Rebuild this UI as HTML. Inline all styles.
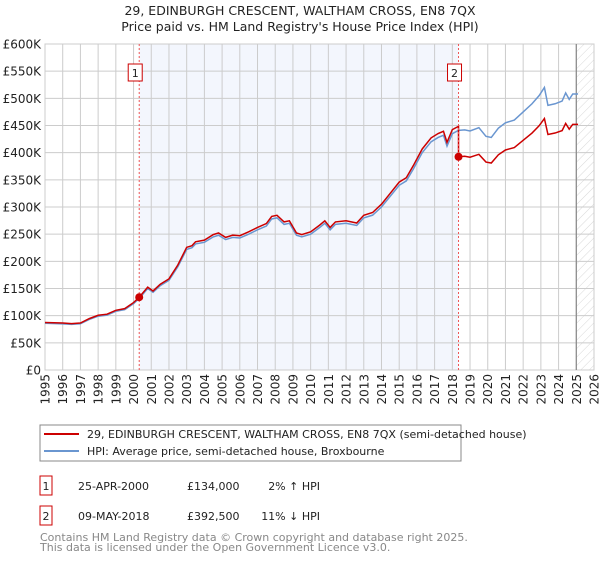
<!DOCTYPE html>
<html><head><meta charset="utf-8"><style>
body{margin:0;background:#fff;font-family:"DejaVu Sans","Liberation Sans",sans-serif;}
svg text{font-family:"DejaVu Sans","Liberation Sans",sans-serif;}
</style></head><body>
<svg id="c" width="600" height="560" xmlns="http://www.w3.org/2000/svg">
<defs><pattern id="hatch" width="6" height="6" patternUnits="userSpaceOnUse" patternTransform="rotate(45)"><line x1="0" y1="0" x2="0" y2="6" stroke="#d8d8d8" stroke-width="1"/></pattern></defs>
<text x="300" y="15" text-anchor="middle" font-size="12.5" fill="#222">29, EDINBURGH CRESCENT, WALTHAM CROSS, EN8 7QX</text>
<text x="300" y="31" text-anchor="middle" font-size="12.5" fill="#222">Price paid vs. HM Land Registry's House Price Index (HPI)</text>
<g id="plot"></g>
<rect x="40" y="425" width="421" height="36" fill="#fff" stroke="#888"/>
<line x1="44" y1="434" x2="79" y2="434" stroke="#cc0000" stroke-width="2"/>
<text x="87" y="438" font-size="11" fill="#222">29, EDINBURGH CRESCENT, WALTHAM CROSS, EN8 7QX (semi-detached house)</text>
<line x1="44" y1="451" x2="79" y2="451" stroke="#6a96d0" stroke-width="2"/>
<text x="87" y="455" font-size="11" fill="#222">HPI: Average price, semi-detached house, Broxbourne</text>
<g font-size="11" fill="#222">
<rect x="40" y="476" width="12" height="19" fill="#fff" stroke="#cc0000"/>
<text x="46" y="490" text-anchor="middle">1</text>
<text x="78" y="490">25-APR-2000</text>
<text x="187" y="490">£134,000</text>
<text x="320" y="490" text-anchor="end">2% ↑ HPI</text>
<rect x="40" y="506" width="12" height="19" fill="#fff" stroke="#cc0000"/>
<text x="46" y="520" text-anchor="middle">2</text>
<text x="78" y="520">09-MAY-2018</text>
<text x="187" y="520">£392,500</text>
<text x="320" y="520" text-anchor="end">11% ↓ HPI</text>
</g>
<text x="40" y="541" font-size="11" fill="#888">Contains HM Land Registry data © Crown copyright and database right 2025.</text>
<text x="40" y="551" font-size="11" fill="#888">This data is licensed under the Open Government Licence v3.0.</text>
</svg>
<script>
const hpiYears=[1995,1996,1996.5,1997,1997.5,1998,1998.5,1999,1999.5,2000,2000.3,2000.8,2001.1,2001.5,2002,2002.5,2003,2003.3,2003.5,2004,2004.5,2004.8,2005.2,2005.6,2006,2006.5,2007,2007.5,2007.8,2008.1,2008.5,2008.8,2009.2,2009.5,2010,2010.5,2010.8,2011.1,2011.4,2012,2012.6,2013,2013.5,2014,2014.5,2015,2015.4,2015.8,2016.3,2016.8,2017.2,2017.5,2017.7,2018,2018.35,2018.7,2019,2019.5,2019.9,2020.2,2020.6,2021,2021.5,2022,2022.5,2022.9,2023.2,2023.4,2023.8,2024.2,2024.4,2024.6,2024.8,2025.1];
const hpiValues=[86,85,84,85,93,99,101,108,111,122,131,150,143,155,165,190,222,225,232,235,245,248,240,244,243,250,258,265,278,280,268,270,248,245,250,262,270,258,268,270,266,280,285,300,320,340,348,370,400,420,428,432,412,435,441,442,440,446,430,428,445,455,460,475,490,505,520,487,490,495,510,498,508,508];
const saleYears=[2000.32,2018.35];
const salePrices=[134,392.5];
const yTicks=[0,50,100,150,200,250,300,350,400,450,500,550,600];
const yTickLabels=["£0","£50K","£100K","£150K","£200K","£250K","£300K","£350K","£400K","£450K","£500K","£550K","£600K"];
const xTicks=[1995,1996,1997,1998,1999,2000,2001,2002,2003,2004,2005,2006,2007,2008,2009,2010,2011,2012,2013,2014,2015,2016,2017,2018,2019,2020,2021,2022,2023,2024,2025,2026];
const NS='http://www.w3.org/2000/svg';
const X0=45,X1=594,Y0=370,Y1=44;
const xs=y=>X0+(y-1995)/(2026-1995)*(X1-X0);
const ys=v=>Y0-v/600*(Y0-Y1);
const g=document.getElementById('plot');
function mk(t,a){const e=document.createElementNS(NS,t);for(const k in a)e.setAttribute(k,a[k]);g.appendChild(e);return e;}
let e=mk('rect',{x:X0,y:Y1,width:X1-X0,height:Y0-Y1,fill:'#fff',stroke:'#ccc'});

e=mk('rect',{x:xs(saleYears[0]),y:Y1,width:xs(saleYears[1])-xs(saleYears[0]),height:Y0-Y1,fill:'#f3f6fd'});

e=mk('rect',{x:xs(2025),y:Y1,width:X1-xs(2025),height:Y0-Y1,fill:'url(#hatch)'});

yTicks.forEach((v,i)=>{
 let l=mk('line',{x1:X0,x2:X1,y1:ys(v),y2:ys(v),stroke:'#ccc'});
 
 let t=mk('text',{x:X0-4,y:ys(v)+4.5,'text-anchor':'end','font-size':'12',fill:'#222'});t.textContent=yTickLabels[i];
 
});
xTicks.forEach(y=>{
 let l=mk('line',{x1:xs(y),x2:xs(y),y1:Y1,y2:Y0,stroke:'#ccc'});
 
 let t=mk('text',{x:0,y:0,'text-anchor':'end','font-size':'12',fill:'#222',transform:`translate(${xs(y)+4.5},${Y0+4}) rotate(-90)`});t.textContent=y;
 
});
e=mk('line',{x1:xs(2025),x2:xs(2025),y1:Y1,y2:Y0,stroke:'#888','stroke-width':1.2});

function hpiAt(y){for(let i=0;i<hpiYears.length-1;i++){if(y>=hpiYears[i]&&y<=hpiYears[i+1]){const f=(y-hpiYears[i])/(hpiYears[i+1]-hpiYears[i]);return hpiValues[i]+f*(hpiValues[i+1]-hpiValues[i]);}}return hpiValues[hpiValues.length-1];}
e=mk('polyline',{points:hpiYears.map((y,i)=>xs(y)+','+ys(hpiValues[i])).join(' '),fill:'none',stroke:'#6a96d0','stroke-width':1.5});

const r1=salePrices[0]/hpiAt(saleYears[0]),r2=salePrices[1]/hpiAt(saleYears[1]);
let pts=[];
hpiYears.forEach((y,i)=>{if(y<saleYears[1])pts.push([y,hpiValues[i]*r1]);});
pts.push([saleYears[1],hpiAt(saleYears[1])*r1]);pts.push([saleYears[1],salePrices[1]]);
hpiYears.forEach((y,i)=>{if(y>saleYears[1])pts.push([y,hpiValues[i]*r2]);});
e=mk('polyline',{points:pts.map(p=>xs(p[0])+','+ys(p[1])).join(' '),fill:'none',stroke:'#cc0000','stroke-width':1.5});

saleYears.forEach((y,i)=>{
 let l=mk('line',{x1:xs(y),x2:xs(y),y1:Y1,y2:Y0,stroke:'#ee5555','stroke-dasharray':'2,2'});
 
 let d=mk('circle',{cx:xs(y),cy:ys(salePrices[i]),r:4,fill:'#cc0000'});
 
 let b=mk('rect',{x:xs(y)-11,y:64,width:14,height:17,fill:'#fff',stroke:'#cc0000'});
 
 let t=mk('text',{x:xs(y)-4,y:77,'text-anchor':'middle','font-size':'11',fill:'#222'});t.textContent=String(i+1);
 
});
</script>
</body></html>
